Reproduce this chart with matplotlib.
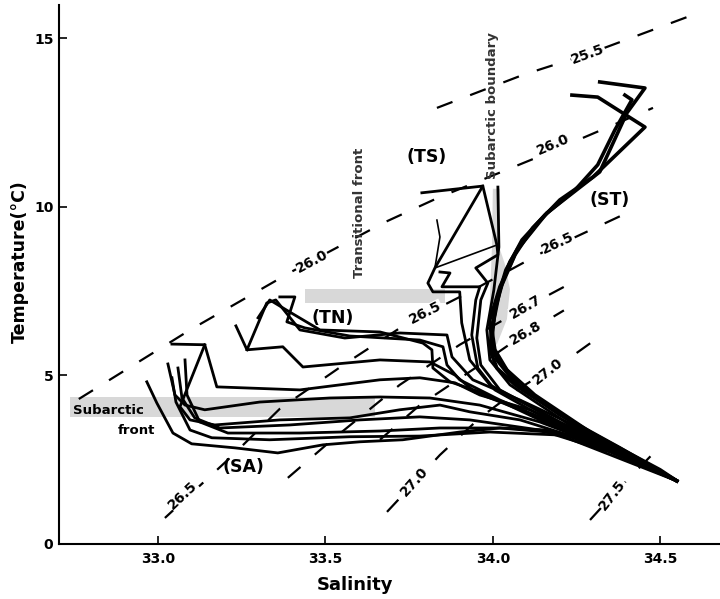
import matplotlib.pyplot as plt

# isopycnals (sigma-t), salinity / temperature points
sig255_s = [33.833, 34.090, 34.284, 34.597]
sig255_t = [12.94, 13.92, 14.54, 15.70]
sig260_s = [32.764, 33.096, 33.403, 33.678, 33.836, 34.149, 34.478]
sig260_t = [4.30, 6.35, 8.10, 9.55, 10.27, 11.54, 12.94]
sig265_s = [33.021, 33.215, 33.364, 33.558, 33.737, 33.931, 34.146, 34.400]
sig265_t = [0.77, 2.55, 4.01, 5.34, 6.50, 7.48, 8.64, 9.82]
sig267_s = [33.388, 33.513, 33.722, 33.901, 34.099, 34.224]
sig267_t = [1.96, 3.03, 4.72, 5.91, 7.03, 7.69]
sig268_s = [33.663, 33.782, 33.961, 34.099, 34.212]
sig268_t = [3.09, 4.12, 5.31, 6.26, 6.93]
sig270_s = [33.684, 33.842, 33.961, 34.081, 34.164, 34.221, 34.304]
sig270_t = [0.95, 2.64, 3.74, 4.63, 5.13, 5.46, 6.05]
sig275_s = [34.290, 34.358, 34.490]
sig275_t = [0.71, 1.45, 2.80]

sig_labels = ['25.5', '26.0', '26.0', '26.5', '26.5', '26.5', '26.7', '26.8', '27.0', '27.0', '27.5']
sig_label_s = [34.284, 33.460, 34.179, 33.075, 33.800, 34.194, 34.099, 34.099, 33.767, 34.164, 34.358]
sig_label_t = [14.54, 8.37, 11.84, 1.45, 6.85, 8.93, 7.03, 6.26, 1.84, 5.13, 1.45]

# T-S profiles
st1_s = [34.319, 34.454, 34.400, 34.319, 34.161, 34.072, 34.021, 33.991, 34.000, 34.090, 34.260, 34.499, 34.549]
st1_t = [13.71, 13.53, 12.79, 11.04, 9.82, 8.72, 7.63, 6.65, 5.67, 4.57, 3.47, 2.20, 1.87]
st2_s = [34.236, 34.313, 34.454, 34.299, 34.200, 34.119, 34.066, 34.027, 34.006, 33.997, 34.012, 34.066, 34.200, 34.379, 34.549]
st2_t = [13.32, 13.26, 12.37, 10.89, 10.21, 9.38, 8.58, 7.69, 6.94, 6.05, 5.46, 4.78, 3.83, 2.85, 1.87]
st3_s = [34.394, 34.415, 34.364, 34.313, 34.245, 34.155, 34.087, 34.039, 34.012, 33.997, 34.006, 34.042, 34.125, 34.290, 34.549]
st3_t = [13.32, 13.18, 12.28, 11.25, 10.50, 9.76, 9.02, 8.13, 7.24, 6.35, 5.76, 5.16, 4.42, 3.32, 1.87]
st4_s = [34.119, 34.081, 34.051, 34.021, 33.997, 33.991, 34.012, 34.066, 34.170, 34.349, 34.549]
st4_t = [9.32, 8.87, 8.37, 7.54, 6.35, 5.76, 5.22, 4.72, 4.04, 2.94, 1.87]

ts1_s = [33.788, 33.970, 33.827, 33.806, 33.821, 33.901, 33.907, 33.931, 33.991, 34.140, 34.319, 34.549]
ts1_t = [10.42, 10.62, 8.19, 7.74, 7.48, 7.48, 6.56, 5.46, 4.72, 3.92, 2.94, 1.87]
ts2_s = [33.970, 34.012, 34.015, 33.949, 33.985, 33.964, 33.952, 33.964, 34.021, 34.200, 34.549]
ts2_t = [10.62, 8.87, 8.58, 8.19, 7.74, 7.24, 6.11, 5.31, 4.57, 3.62, 1.87]
ts3_s = [33.833, 33.842, 33.827, 34.012]
ts3_t = [9.61, 9.11, 8.19, 8.87]
ts4_s = [34.015, 34.018, 34.003, 33.982, 33.991, 34.051, 34.230, 34.549]
ts4_t = [10.59, 8.81, 7.54, 6.35, 5.46, 4.72, 3.53, 1.87]
ts5_s = [33.842, 33.872, 33.848, 33.961, 33.949, 33.937, 33.955, 34.006, 34.155, 34.549]
ts5_t = [8.07, 8.04, 7.63, 7.63, 7.24, 6.20, 5.22, 4.57, 3.74, 1.87]

tn1_s = [33.233, 33.266, 33.373, 33.433, 33.663, 33.812, 33.887, 33.946, 34.081, 34.290, 34.549]
tn1_t = [6.47, 5.76, 5.85, 5.25, 5.46, 5.40, 5.01, 4.51, 3.98, 3.09, 1.87]
tn2_s = [33.266, 33.325, 33.352, 33.424, 33.558, 33.722, 33.863, 33.878, 33.940, 34.081, 34.260, 34.549]
tn2_t = [5.76, 7.15, 7.24, 6.35, 6.11, 6.26, 6.20, 5.55, 4.87, 4.27, 3.44, 1.87]
tn3_s = [33.364, 33.409, 33.385, 33.439, 33.573, 33.782, 33.851, 33.863, 33.901, 34.021, 34.230, 34.549]
tn3_t = [7.33, 7.33, 6.59, 6.41, 6.17, 6.05, 5.85, 5.31, 4.87, 4.27, 3.38, 1.87]
tn4_s = [33.299, 33.334, 33.394, 33.484, 33.663, 33.791, 33.818, 33.821, 33.872, 33.970, 34.140, 34.549]
tn4_t = [6.71, 7.24, 6.88, 6.35, 6.29, 5.96, 5.76, 5.22, 4.81, 4.48, 3.68, 1.87]

l1_s = [33.042, 33.140, 33.176, 33.424, 33.663, 33.782, 33.887, 33.961, 34.110, 34.319, 34.549]
l1_t = [5.93, 5.91, 4.66, 4.57, 4.87, 4.93, 4.78, 4.42, 3.98, 3.09, 1.87]
l2_s = [33.140, 33.066, 33.096, 33.170, 33.364, 33.573, 33.722, 33.842, 33.931, 34.081, 34.319, 34.549]
l2_t = [5.91, 4.07, 3.68, 3.53, 3.68, 3.74, 3.98, 4.12, 3.92, 3.68, 2.94, 1.87]
b1_s = [33.030, 33.051, 33.081, 33.140, 33.304, 33.513, 33.663, 33.812, 33.961, 34.140, 34.319, 34.549]
b1_t = [5.34, 4.42, 4.12, 3.98, 4.21, 4.33, 4.36, 4.33, 4.12, 3.62, 2.94, 1.87]
b2_s = [33.060, 33.072, 33.110, 33.185, 33.394, 33.603, 33.782, 33.931, 34.140, 34.349, 34.549]
b2_t = [5.22, 4.33, 3.74, 3.44, 3.53, 3.68, 3.77, 3.68, 3.38, 2.73, 1.87]
b3_s = [33.081, 33.087, 33.125, 33.209, 33.424, 33.663, 33.842, 34.021, 34.200, 34.379, 34.549]
b3_t = [5.46, 4.42, 3.62, 3.29, 3.29, 3.35, 3.44, 3.44, 3.29, 2.64, 1.87]
b4_s = [33.042, 33.054, 33.096, 33.161, 33.334, 33.573, 33.782, 33.991, 34.200, 34.549]
b4_t = [4.93, 4.21, 3.38, 3.15, 3.09, 3.18, 3.20, 3.32, 3.23, 1.87]
sa_s = [32.967, 32.997, 33.045, 33.101, 33.230, 33.358, 33.493, 33.603, 33.731, 33.901, 34.021, 34.161, 34.281, 34.358, 34.549]
sa_t = [4.81, 4.18, 3.29, 2.97, 2.85, 2.70, 2.94, 3.03, 3.09, 3.32, 3.44, 3.38, 3.09, 2.88, 1.87]

# shaded frontal zones
sa_front_s = [32.737, 33.648]
sa_front_t = [3.77, 4.36]
tr_front_s = [33.439, 33.857]
tr_front_t = [7.15, 7.57]
sb_zone_s = [34.000, 34.021, 34.021, 34.036, 34.051, 34.042, 34.012, 33.982, 33.991, 33.997]
sb_zone_t = [10.54, 10.54, 8.75, 8.30, 7.56, 6.67, 5.92, 5.92, 7.26, 8.75]

# Step 1: figure and axes
fig = plt.figure(figsize=(7.2, 5.99), dpi=100)
ax = fig.add_axes([0.082, 0.092, 0.918, 0.9])
ax.set_xlim(32.705, 34.678)
ax.set_ylim(0, 16.0)

# Step 2: shaded zones (stippled grey in the original)
shade = '#d8d8d8'
ax.fill_between(sa_front_s, sa_front_t[0], sa_front_t[1], color=shade, lw=0, zorder=1)
ax.fill_between(tr_front_s, tr_front_t[0], tr_front_t[1], color=shade, lw=0, zorder=1)
ax.fill(sb_zone_s, sb_zone_t, color=shade, lw=0, zorder=1)

# Step 3: isopycnals
isopycnals = [(sig255_s, sig255_t), (sig260_s, sig260_t), (sig265_s, sig265_t),
              (sig267_s, sig267_t), (sig268_s, sig268_t), (sig270_s, sig270_t),
              (sig275_s, sig275_t)]
for s, t in isopycnals:
    ax.plot(s, t, color='black', lw=1.6, linestyle=(0, (7.5, 8.5)), zorder=2)

label_rot = [20, 28, 23, 43, 27, 25, 30, 30, 48, 38, 52]
for txt, s, t, r in zip(sig_labels, sig_label_s, sig_label_t, label_rot):
    ax.text(s, t, txt, rotation=r, ha='center', va='center', fontsize=10,
            fontweight='bold', zorder=5,
            bbox=dict(facecolor='white', edgecolor='none', pad=0.3))

# Step 4: profiles
thick = [(st1_s, st1_t), (st2_s, st2_t), (st3_s, st3_t), (st4_s, st4_t)]
normal = [(ts1_s, ts1_t), (ts2_s, ts2_t), (ts4_s, ts4_t), (ts5_s, ts5_t),
          (tn1_s, tn1_t), (tn2_s, tn2_t), (tn3_s, tn3_t), (tn4_s, tn4_t),
          (l1_s, l1_t), (l2_s, l2_t), (b1_s, b1_t), (b2_s, b2_t),
          (b3_s, b3_t), (b4_s, b4_t), (sa_s, sa_t)]
for s, t in thick:
    ax.plot(s, t, color='black', lw=2.6, solid_joinstyle='round', zorder=3)
for s, t in normal:
    ax.plot(s, t, color='black', lw=2.0, solid_joinstyle='round', zorder=3)
ax.plot(ts3_s, ts3_t, color='black', lw=1.2, zorder=3)

# Step 5: annotations
for txt, s, t in [('(TS)', 33.803, 11.48), ('(ST)', 34.349, 10.21),
                  ('(TN)', 33.522, 6.71), ('(SA)', 33.254, 2.28)]:
    ax.text(s, t, txt, ha='center', va='center', fontsize=12.5, fontweight='bold', zorder=5)
ax.text(33.603, 9.82, 'Transitional front', rotation=90, ha='center', va='center',
        fontsize=9.5, fontweight='bold', color='#333333', zorder=5)
ax.text(34.0, 13.0, 'Subarctic boundary', rotation=90, ha='center', va='center',
        fontsize=9.5, fontweight='bold', color='#333333', zorder=5)
ax.text(32.851, 3.95, 'Subarctic', ha='center', va='center', fontsize=9.5,
        fontweight='bold', zorder=5)
ax.text(32.937, 3.38, 'front', ha='center', va='center', fontsize=9.5,
        fontweight='bold', zorder=5)

# Step 6: axes styling
for side in ['top', 'right']:
    ax.spines[side].set_visible(False)
for side in ['left', 'bottom']:
    ax.spines[side].set_linewidth(1.5)
ax.set_xticks([33.0, 33.5, 34.0, 34.5])
ax.set_xticklabels(['33.0', '33.5', '34.0', '34.5'])
ax.set_yticks([0, 5, 10, 15])
ax.tick_params(direction='in', length=6, width=1.2, labelsize=10)
ax.tick_params(axis='x', pad=6)
ax.tick_params(axis='y', pad=4)
for lab in ax.get_xticklabels() + ax.get_yticklabels():
    lab.set_fontweight('bold')
ax.set_xlabel('Salinity', fontsize=13, fontweight='bold')
ax.xaxis.set_label_coords(0.448, -0.059)
ax.set_ylabel('Temperature(°C)', fontsize=12.5, fontweight='bold')
ax.yaxis.set_label_coords(-0.045, 0.523)

fig.savefig('out.png', dpi=100)
